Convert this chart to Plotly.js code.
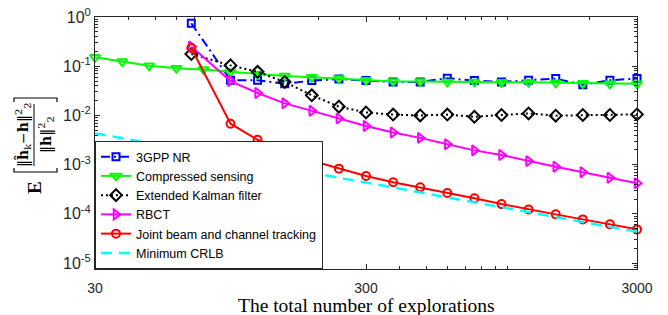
<!DOCTYPE html>
<html><head><meta charset="utf-8">
<script src="https://cdn.plot.ly/plotly-3.0.1.min.js"></script>
<style>html,body{margin:0;padding:0;background:#fff}#chart{width:668px;height:315px}</style>
</head><body><div id="chart"></div>
<script>
// ---- data ----
const xFull  = [30, 37.8, 47.5, 59.9, 75.4, 94.9, 119.4, 150.4, 189.3, 238.3, 300, 377.7, 475.5, 598.6, 753.6, 948.7, 1194, 1504, 1893, 2383, 3000];
const xTrack = [68, 94.9, 119.4, 150.4, 189.3, 238.3, 300, 377.7, 475.5, 598.6, 753.6, 948.7, 1194, 1504, 1893, 2383, 3000];

const yNR   = [0.745, 0.052, 0.052, 0.044, 0.051, 0.055, 0.051, 0.048, 0.048, 0.057, 0.051, 0.048, 0.052, 0.056, 0.042, 0.052, 0.056];
const yCS   = [0.152, 0.124, 0.102, 0.091, 0.086, 0.077, 0.069, 0.063, 0.060, 0.056, 0.052, 0.049, 0.049, 0.048, 0.048, 0.047, 0.047, 0.046, 0.045, 0.044, 0.044];
const yEKF  = [0.177, 0.104, 0.077, 0.048, 0.0256, 0.0151, 0.0115, 0.0104, 0.0100, 0.0104, 0.0094, 0.0102, 0.0110, 0.0099, 0.0102, 0.0102, 0.0105];
const yRBCT = [0.252, 0.050, 0.0285, 0.0176, 0.0124, 0.0087, 0.0061, 0.0045, 0.0035, 0.0026, 0.00195, 0.00157, 0.00118, 0.00091, 0.00070, 0.00054, 0.00042];
const yJBCT = [0.234, 0.0068, 0.0032, 0.00183, 0.0012, 0.00083, 0.00059, 0.00044, 0.000346, 0.000265, 0.000207, 0.000158, 0.000123, 0.0000977, 0.0000773, 0.0000612, 0.0000484];
const yCRLB = [0.00432, 0.00343, 0.00273, 0.00216, 0.00172, 0.00137, 0.00109, 0.000862, 0.000685, 0.000544, 0.000432, 0.000343, 0.000273, 0.000216, 0.000172, 0.000137, 0.000109, 0.0000862, 0.0000685, 0.0000544, 0.0000432];

const seriesNames = ['3GPP NR', 'Compressed sensing', 'Extended Kalman filter', 'RBCT', 'Joint beam and channel tracking', 'Minimum CRLB'];
const xTitle = 'The total number of explorations';

const xTickVals = [30, 300, 3000];
const xTickText = ['30', '300', '3000'];
const xMinorVals = [40, 50, 60, 70, 80, 90, 100, 200, 400, 500, 600, 700, 800, 900, 1000, 2000];
const yTickVals = [1e-5, 1e-4, 1e-3, 1e-2, 1e-1, 1];
const yTickText = ['10<sup>-5</sup>', '10<sup>-4</sup>', '10<sup>-3</sup>', '10<sup>-2</sup>', '10<sup>-1</sup>', '10<sup>0</sup>'];
const yMinorVals = [];
[-6, -5, -4, -3, -2, -1].forEach(function (e) {
  [2, 3, 4, 5, 6, 7, 8, 9].forEach(function (m) { yMinorVals.push(m * Math.pow(10, e)); });
});

// ---- layout helpers ----
const W = 668, H = 315, ML = 95, MR = 31, MT = 17, MB = 46;
const PW = W - ML - MR, PH = H - MT - MB;
function px(x) { return (x - ML) / PW; }
function py(y) { return (H - MB - y) / PH; }

const ink = '#262626';
const lw = 2;
const traces = [
  {x: xTrack, y: yNR, name: seriesNames[0], mode: 'lines+markers', cliponaxis: false,
   line: {color: '#0000FF', width: lw, dash: '9px,4px,2px,4px'},
   marker: {symbol: 'square-open', size: 7, color: '#0000FF', line: {width: 2, color: '#0000FF'}}},
  {x: xFull, y: yCS, name: seriesNames[1], mode: 'lines+markers', cliponaxis: false,
   line: {color: '#00FF00', width: lw},
   marker: {symbol: 'triangle-down-open', size: 9, color: '#00FF00', line: {width: 2, color: '#00FF00'}}},
  {x: xTrack, y: yEKF, name: seriesNames[2], mode: 'lines+markers', cliponaxis: false,
   line: {color: '#000000', width: lw, dash: '2px,3px'},
   marker: {symbol: 'diamond-open', size: 9, color: '#000000', line: {width: 2, color: '#000000'}}},
  {x: xTrack, y: yRBCT, name: seriesNames[3], mode: 'lines+markers', cliponaxis: false,
   line: {color: '#FF00FF', width: lw},
   marker: {symbol: 'triangle-right-open', size: 9, color: '#FF00FF', line: {width: 2, color: '#FF00FF'}}},
  {x: xTrack, y: yJBCT, name: seriesNames[4], mode: 'lines+markers', cliponaxis: false,
   line: {color: '#FF0000', width: lw},
   marker: {symbol: 'circle-open', size: 8, color: '#FF0000', line: {width: 2, color: '#FF0000'}}},
  {x: xFull, y: yCRLB, name: seriesNames[5], mode: 'lines',
   line: {color: '#00FFFF', width: 2.5, dash: '11px,7px'}}
];

const serif = 'Liberation Serif, Times New Roman, serif';
const mathSerif = 'DejaVu Serif, serif';
const sans = 'Liberation Sans, Arial, sans-serif';

function bracketPath(top) {
  if (top) {
    return 'M ' + px(14) + ' ' + py(102) + ' L ' + px(14) + ' ' + py(98) + ' L ' + px(57) + ' ' + py(98) + ' L ' + px(57) + ' ' + py(102);
  }
  return 'M ' + px(14) + ' ' + py(168) + ' L ' + px(14) + ' ' + py(172) + ' L ' + px(57) + ' ' + py(172) + ' L ' + px(57) + ' ' + py(168);
}

const layout = {
  width: W, height: H,
  margin: {l: ML, r: MR, t: MT, b: MB, pad: 0},
  paper_bgcolor: '#fff', plot_bgcolor: '#fff',
  showlegend: true,
  font: {family: sans, color: ink},
  xaxis: {
    type: 'log', range: [Math.log10(30), Math.log10(3000)],
    tickmode: 'array', tickvals: xTickVals, ticktext: xTickText,
    ticks: 'inside', ticklen: 5, tickwidth: 1, tickcolor: ink,
    minor: {tickmode: 'array', tickvals: xMinorVals, ticks: 'inside', ticklen: 3, tickcolor: ink, showgrid: false},
    showline: true, linecolor: ink, linewidth: 1, mirror: 'allticks',
    showgrid: false, zeroline: false, ticklabelstandoff: 6,
    tickfont: {family: sans, size: 14, color: ink}
  },
  yaxis: {
    type: 'log', range: [-5.12, 0],
    tickmode: 'array', tickvals: yTickVals, ticktext: yTickText,
    ticks: 'inside', ticklen: 5, tickwidth: 1, tickcolor: ink,
    minor: {tickmode: 'array', tickvals: yMinorVals, ticks: 'inside', ticklen: 3, tickcolor: ink, showgrid: false},
    showline: true, linecolor: ink, linewidth: 1, mirror: 'allticks',
    showgrid: false, zeroline: false,
    tickfont: {family: sans, size: 16, color: ink}
  },
  legend: {
    x: 0, y: 0, xanchor: 'left', yanchor: 'bottom',
    bgcolor: '#fff', bordercolor: ink, borderwidth: 1,
    itemwidth: 30, tracegroupgap: 0,
    font: {family: sans, size: 12.5, color: '#000'}
  },
  annotations: [
    {xref: 'paper', yref: 'paper', x: px(366), y: py(305), text: xTitle, showarrow: false,
     font: {family: serif, size: 19.5, color: '#000'}, xanchor: 'center', yanchor: 'middle'},
    {xref: 'paper', yref: 'paper', x: px(34), y: py(188), text: '<b>E</b>', showarrow: false, textangle: -90,
     font: {family: serif, size: 19, color: '#000'}, xanchor: 'center', yanchor: 'middle'},
    {xref: 'paper', yref: 'paper', x: px(23), y: py(135), text: '‖<b>ĥ</b><sub>k</sub>−<b>h</b>‖<sup>2</sup><sub>2</sub>', showarrow: false, textangle: -90,
     font: {family: mathSerif, size: 14, color: '#000'}, xanchor: 'center', yanchor: 'middle'},
    {xref: 'paper', yref: 'paper', x: px(46), y: py(135), text: '‖<b>h</b>‖<sup>2</sup><sub>2</sub>', showarrow: false, textangle: -90,
     font: {family: mathSerif, size: 14, color: '#000'}, xanchor: 'center', yanchor: 'middle'}
  ],
  shapes: [
    {type: 'line', xref: 'paper', yref: 'paper', x0: px(34), x1: px(34), y0: py(104), y1: py(166), line: {color: '#000', width: 1}},
    {type: 'path', xref: 'paper', yref: 'paper', path: bracketPath(true), line: {color: '#000', width: 1.2}},
    {type: 'path', xref: 'paper', yref: 'paper', path: bracketPath(false), line: {color: '#000', width: 1.2}}
  ]
};

Plotly.newPlot('chart', traces, layout, {displayModeBar: false, staticPlot: true});
</script>
</body></html>
